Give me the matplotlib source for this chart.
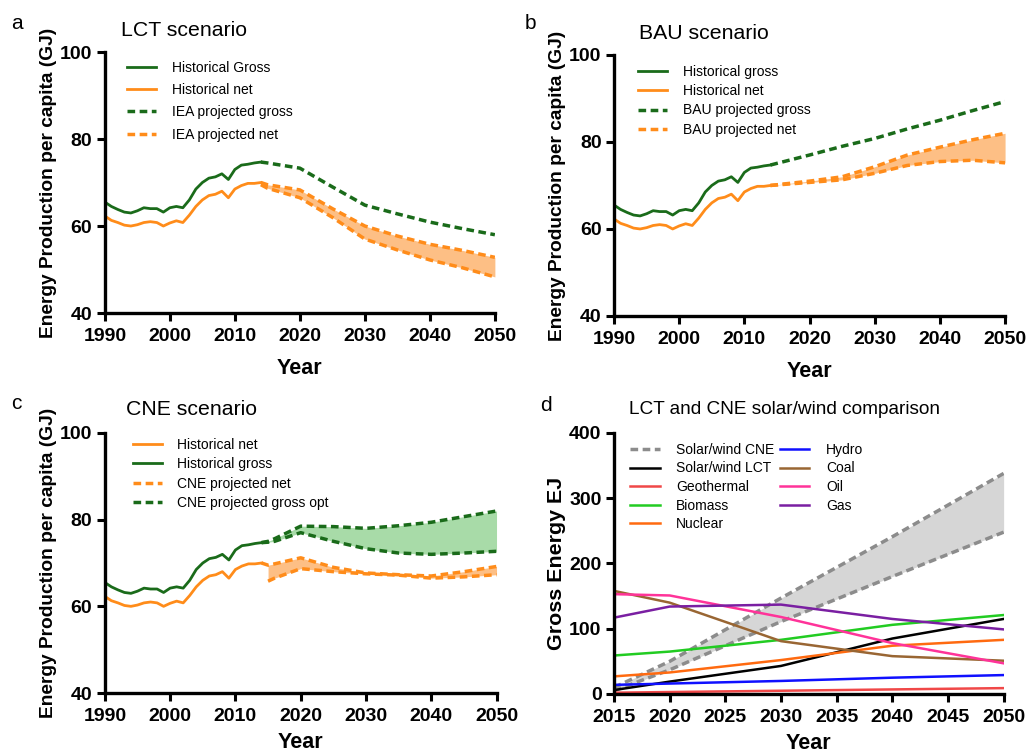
import numpy as np
import matplotlib.pyplot as plt

plt.rcParams['font.family'] = ['Liberation Sans', 'DejaVu Sans']

#-------------------------------------------------------------------------------
# historical data (1990-2014)
hist_years = list(range(1990, 2015))
hist_gross = [65.5, 64.5, 63.8, 63.2, 63.0, 63.5, 64.2, 64.0, 64.0, 63.2,
              64.2, 64.5, 64.2, 66.0, 68.5, 70.0, 71.0, 71.3, 72.0, 70.7,
              73.0, 74.0, 74.2, 74.5, 74.7]
hist_net = [62.3, 61.3, 60.8, 60.2, 60.0, 60.3, 60.8, 61.0, 60.8, 60.0,
            60.7, 61.2, 60.8, 62.5, 64.5, 66.0, 67.0, 67.3, 68.0, 66.5,
            68.5, 69.3, 69.8, 69.8, 70.0]

# LCT projections
lct_years = [2014, 2015, 2020, 2025, 2030, 2035, 2040, 2045, 2050]
lct_gross = [74.7, 74.5, 73.3, 69.0, 64.8, 62.8, 60.9, 59.4, 58.0]
lct_net_hi = [70.0, 69.5, 68.3, 64.0, 60.0, 57.7, 55.8, 54.4, 52.8]
lct_net_lo = [69.5, 68.7, 66.5, 62.0, 57.0, 54.5, 52.2, 50.4, 48.3]

# BAU projections
bau_years = [2014, 2020, 2025, 2030, 2035, 2040, 2045, 2050]
bau_gross = [74.7, 77.0, 79.0, 80.8, 83.0, 85.0, 87.2, 89.3]
bau_net_hi = [70.0, 71.0, 72.0, 74.3, 77.0, 78.8, 80.5, 82.0]
bau_net_lo = [70.0, 70.7, 71.3, 72.8, 74.6, 75.5, 75.8, 75.2]

# CNE projections
cne_years = [2014, 2015, 2016, 2020, 2025, 2030, 2035, 2040, 2045, 2050]
cne_gross_hi = [74.7, 75.0, 75.6, 78.5, 78.4, 78.0, 78.6, 79.4, 80.7, 82.0]
cne_gross_lo = [74.7, 74.8, 75.0, 77.0, 75.0, 73.3, 72.3, 72.0, 72.3, 72.7]
cne_net_hi = [70.0, 69.5, 69.8, 71.2, 69.0, 67.7, 67.3, 67.0, 68.0, 69.2]
cne_net_lo = [70.0, 65.8, 66.5, 68.7, 68.0, 67.5, 67.2, 66.5, 66.8, 67.3]

# solar/wind comparison (EJ)
d_years = [2015, 2020, 2030, 2040, 2050]
sw_cne_hi = [10, 50, 147, 241, 338]
sw_cne_lo = [5, 37, 111, 180, 248]
sw_lct = [6, 19, 43, 85, 115]
geothermal = [2, 3, 5, 7, 9]
biomass = [59, 65, 83, 106, 121]
nuclear = [27, 33, 52, 74, 83]
hydro = [14, 16, 20, 25, 29]
coal = [158, 140, 81, 58, 51]
oil = [153, 151, 118, 78, 47]
gas = [117, 134, 137, 115, 99]

#-------------------------------------------------------------------------------
GREEN = '#1a6b1a'
ORANGE = '#ff8c1a'
DASH = (0, (2.2, 1.3))

fig = plt.figure(figsize=(10.28, 7.55), dpi=100)

def style_axes(ax, xlim, ylim, xticks, yticks, ylabel, ylab_size=13.8, xpad=9):
    ax.set_xlim(*xlim)
    ax.set_ylim(*ylim)
    ax.set_xticks(xticks)
    ax.set_yticks(yticks)
    for s in ['top', 'right']:
        ax.spines[s].set_visible(False)
    for s in ['left', 'bottom']:
        ax.spines[s].set_linewidth(2.4)
    ax.tick_params(width=2.2, length=6, direction='out', pad=3)
    ax.tick_params(axis='x', pad=5)
    for lab in ax.get_xticklabels() + ax.get_yticklabels():
        lab.set_fontsize(14)
        lab.set_fontweight('bold')
    ax.set_xlabel('Year', fontsize=15.5, fontweight='bold', labelpad=xpad)
    ax.set_ylabel(ylabel, fontsize=ylab_size, fontweight='bold', labelpad=2)

def add_legend(ax, **kw):
    opts = dict(loc='upper left', bbox_to_anchor=(0.03, 1.0), frameon=False, fontsize=10,
                handlelength=2.1, handletextpad=1.1, labelspacing=0.55)
    opts.update(kw)
    ax.legend(**opts)

ylab = 'Energy Production per capita (GJ)'

#-------------------------------------------------------------------------------
# a: LCT
ax = fig.add_axes([0.102, 0.5854, 0.3794, 0.3457])
ax.fill_between(lct_years, lct_net_lo, lct_net_hi, color='#fdbf85', lw=0)
ax.plot(hist_years, hist_gross, color=GREEN, lw=2, label='Historical Gross')
ax.plot(hist_years, hist_net, color=ORANGE, lw=2, label='Historical net')
ax.plot(lct_years, lct_gross, color=GREEN, lw=2.5, ls=DASH, label='IEA projected gross')
ax.plot(lct_years, lct_net_hi, color=ORANGE, lw=2.5, ls=DASH, label='IEA projected net')
ax.plot(lct_years, lct_net_lo, color=ORANGE, lw=2.5, ls=DASH)
style_axes(ax, (1990, 2050), (40, 100), range(1990, 2051, 10), range(40, 101, 20), ylab)
add_legend(ax, bbox_to_anchor=(0.025, 1.015), labelspacing=0.6)

# b: BAU
ax = fig.add_axes([0.5973, 0.5815, 0.3804, 0.3457])
ax.fill_between(bau_years, bau_net_lo, bau_net_hi, color='#fdbf85', lw=0)
ax.plot(hist_years, hist_gross, color=GREEN, lw=2, label='Historical gross')
ax.plot(hist_years, hist_net, color=ORANGE, lw=2, label='Historical net')
ax.plot(bau_years, bau_gross, color=GREEN, lw=2.5, ls=DASH, label='BAU projected gross')
ax.plot(bau_years, bau_net_hi, color=ORANGE, lw=2.5, ls=DASH, label='BAU projected net')
ax.plot(bau_years, bau_net_lo, color=ORANGE, lw=2.5, ls=DASH)
style_axes(ax, (1990, 2050), (40, 100), range(1990, 2051, 10), range(40, 101, 20), ylab)
add_legend(ax, bbox_to_anchor=(0.03, 1.01), labelspacing=0.38)

# c: CNE
ax = fig.add_axes([0.102, 0.0821, 0.381, 0.3444])
ax.fill_between(cne_years, cne_gross_lo, cne_gross_hi, color='#a8dba8', lw=0)
ax.fill_between(cne_years[1:], cne_net_lo[1:], cne_net_hi[1:], color='#fdbf85', lw=0)
ax.plot(hist_years, hist_net, color=ORANGE, lw=2, label='Historical net')
ax.plot(hist_years, hist_gross, color=GREEN, lw=2, label='Historical gross')
ax.plot(cne_years, cne_net_hi, color=ORANGE, lw=2.5, ls=DASH, label='CNE projected net')
ax.plot(cne_years, cne_gross_hi, color=GREEN, lw=2.5, ls=DASH, label='CNE projected gross opt')
ax.plot(cne_years[1:], cne_net_lo[1:], color=ORANGE, lw=2.5, ls=DASH)
ax.plot(cne_years, cne_gross_lo, color=GREEN, lw=2.5, ls=DASH)
style_axes(ax, (1990, 2050), (40, 100), range(1990, 2051, 10), range(40, 101, 20), ylab, xpad=5)
add_legend(ax, bbox_to_anchor=(0.04, 1.03), labelspacing=0.4)

# d: solar/wind comparison
ax = fig.add_axes([0.5973, 0.0808, 0.379, 0.3457])
ax.fill_between(d_years, sw_cne_lo, sw_cne_hi, color='#d6d6d6', lw=0)
ax.plot(d_years, sw_cne_hi, color='#8c8c8c', lw=2.5, ls=DASH, label='Solar/wind CNE')
ax.plot(d_years, sw_cne_lo, color='#8c8c8c', lw=2.5, ls=DASH)
ax.plot(d_years, sw_lct, color='black', lw=1.8, label='Solar/wind LCT')
ax.plot(d_years, geothermal, color='#f04848', lw=1.8, label='Geothermal')
ax.plot(d_years, biomass, color='#22cc22', lw=1.8, label='Biomass')
ax.plot(d_years, nuclear, color='#ff6a10', lw=1.8, label='Nuclear')
ax.plot(d_years, hydro, color='#1010ff', lw=1.8, label='Hydro')
ax.plot(d_years, coal, color='#996633', lw=1.8, label='Coal')
ax.plot(d_years, oil, color='#ff3399', lw=1.8, label='Oil')
ax.plot(d_years, gas, color='#7a1fa2', lw=1.8, label='Gas')
style_axes(ax, (2015, 2050), (0, 400), range(2015, 2051, 5), range(0, 401, 100),
           'Gross Energy EJ', ylab_size=15.4, xpad=5)
add_legend(ax, bbox_to_anchor=(0.01, 1.01), ncol=2, handletextpad=1.2,
           labelspacing=0.33, columnspacing=0.4)

#-------------------------------------------------------------------------------
fig.text(0.011, 0.962, 'a', fontsize=15)
fig.text(0.118, 0.952, 'LCT scenario', fontsize=15.3)
fig.text(0.510, 0.962, 'b', fontsize=15)
fig.text(0.622, 0.948, 'BAU scenario', fontsize=15.3)
fig.text(0.011, 0.458, 'c', fontsize=15)
fig.text(0.123, 0.450, 'CNE scenario', fontsize=15.3)
fig.text(0.525, 0.456, 'd', fontsize=15)
fig.text(0.612, 0.452, 'LCT and CNE solar/wind comparison', fontsize=13.7)

fig.savefig('out.png', dpi=100)
